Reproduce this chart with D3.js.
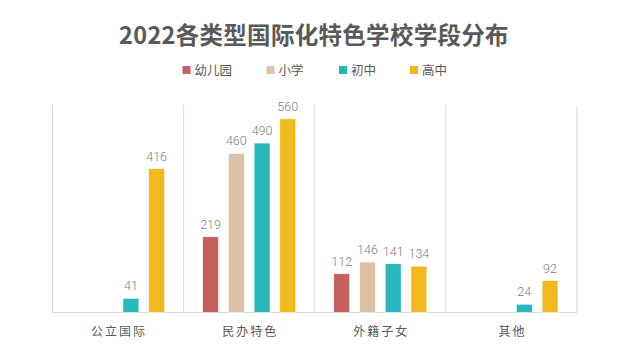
<!DOCTYPE html>
<html><head><meta charset="utf-8">
<script src="https://cdn.jsdelivr.net/npm/d3@7"></script>
<style>body{margin:0;background:#fff;} svg{display:block;font-family:"Noto Sans CJK SC","Noto Sans",sans-serif;}</style>
</head><body><svg id="c" width="640" height="355"></svg>
<script>
const title = "2022各类型国际化特色学校学段分布";
const categories = ["公立国际", "民办特色", "外籍子女", "其他"];
const seriesNames = ["幼儿园", "小学", "初中", "高中"];
const colors = ["#C65F5F", "#DBC1A7", "#26B8BC", "#F2B81C"];
const kindergarten = [null, 219, 112, null];
const primary = [null, 460, 146, null];
const juniorHigh = [41, 490, 141, 24];
const seniorHigh = [416, 560, 134, 92];
const yDomain = [0, 600];

(function () {
const series = [kindergarten, primary, juniorHigh, seniorHigh];
const svg = d3.select("#c");
const pLeft = 52.5, pRight = 577, pTop = 105, pBottom = 312.5;

const x = d3.scaleBand().domain(categories).range([pLeft, pRight]).paddingInner(0).paddingOuter(0);
const x1 = d3.scaleBand().domain(seriesNames).range([19, x.bandwidth() - 19]).paddingInner(0.38).paddingOuter(0);
const y = d3.scaleLinear().domain(yDomain).range([pBottom, pTop]);

svg.append("text").attr("x", 314).attr("y", 44).attr("text-anchor", "middle")
  .attr("font-size", 23.5).attr("font-weight", 700).attr("letter-spacing", 0.3).attr("fill", "#595959").text(title);

// legend
const legendX = [182.5, 266.5, 339, 410];
const lg = svg.append("g");
seriesNames.forEach((n, i) => {
  lg.append("rect").attr("x", legendX[i]).attr("y", 66).attr("width", 8).attr("height", 8).attr("fill", colors[i]);
  lg.append("text").attr("x", legendX[i] + 12).attr("y", 74.5).attr("font-size", 12.5).attr("fill", "#595959").text(n);
});

// separators
const bounds = categories.map(c => x(c)).concat([pRight]);
svg.append("g").selectAll("line").data(bounds).join("line")
  .attr("x1", d => d).attr("x2", d => d).attr("y1", pTop).attr("y2", pBottom)
  .attr("stroke", "#d9d9d9").attr("stroke-width", 1);
svg.append("line").attr("x1", pLeft).attr("x2", pRight).attr("y1", pBottom).attr("y2", pBottom)
  .attr("stroke", "#d9d9d9").attr("stroke-width", 1);

// bars
categories.forEach((c, ci) => {
  series.forEach((s, si) => {
    const v = s[ci];
    if (v == null) return;
    const bx = x(c) + x1(seriesNames[si]);
    svg.append("rect").attr("x", bx).attr("y", y(v)).attr("width", x1.bandwidth())
      .attr("height", pBottom - y(v)).attr("fill", colors[si]).attr("stroke", "#fff").attr("stroke-width", 0.6);
    svg.append("text").attr("x", bx + x1.bandwidth() / 2).attr("y", y(v) - 8)
      .attr("text-anchor", "middle").attr("font-size", 12.5).attr("font-weight", 300).attr("fill", "#7f7f7f")
      .attr("font-family", "Roboto, 'Noto Sans', sans-serif").text(v);
  });
});

// category labels
svg.append("g").selectAll("text").data(categories).join("text")
  .attr("x", d => x(d) + x.bandwidth() / 2 + 1).attr("y", 336).attr("text-anchor", "middle")
  .attr("font-size", 12).attr("letter-spacing", 2).attr("fill", "#595959").text(d => d);
})();
</script></body></html>
